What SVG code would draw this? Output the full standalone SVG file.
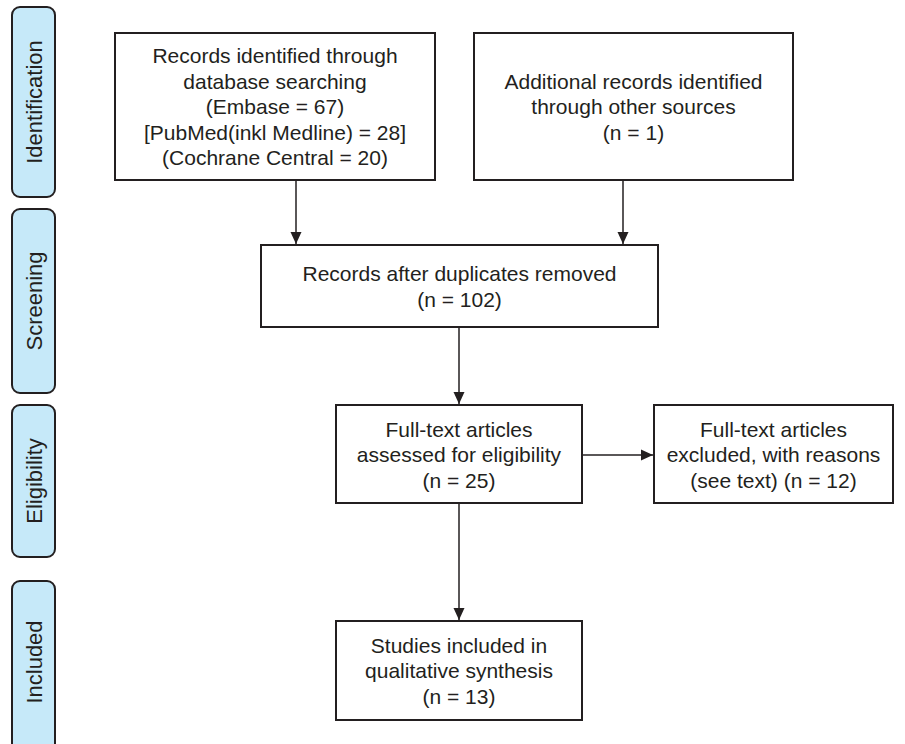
<svg xmlns="http://www.w3.org/2000/svg" width="905" height="744" viewBox="0 0 905 744">
<style>
.box{fill:#ffffff;stroke:#231f20;stroke-width:2}
.phase{fill:#c6e9f9;stroke:#231f20;stroke-width:2}
.t{font-family:"Liberation Sans",Arial,sans-serif;font-size:21px;fill:#231f20;text-anchor:middle}
.pt{font-family:"Liberation Sans",Arial,sans-serif;font-size:22px;fill:#231f20;text-anchor:middle}
.c{stroke:#231f20;stroke-width:1.5;fill:none}
</style>
<defs>
<marker id="ah" markerUnits="userSpaceOnUse" markerWidth="12" markerHeight="12" viewBox="0 0 12 12" refX="12" refY="6" orient="auto">
<path d="M0,0.5 L12,6 L0,11.5 Z" fill="#231f20"/>
</marker>
</defs>
<rect width="905" height="744" fill="#ffffff"/>

<g id="phase-identification">
<rect class="phase" x="12" y="7" width="43" height="190" rx="8"/>
<text class="pt" transform="translate(41.5,102) rotate(-90)">Identification</text>
</g>
<g id="phase-screening">
<rect class="phase" x="12" y="209" width="43" height="184" rx="8"/>
<text class="pt" transform="translate(41.5,301) rotate(-90)">Screening</text>
</g>
<g id="phase-eligibility">
<rect class="phase" x="12" y="405" width="43" height="152" rx="8"/>
<text class="pt" transform="translate(41.5,481) rotate(-90)">Eligibility</text>
</g>
<g id="phase-included">
<rect class="phase" x="12" y="581" width="43" height="180" rx="8"/>
<text class="pt" transform="translate(41.5,662) rotate(-90)">Included</text>
</g>

<g id="records-database">
<rect class="box" x="115" y="33" width="320" height="147"/>
<text class="t" x="275" y="63">Records identified through</text>
<text class="t" x="275" y="88.5">database searching</text>
<text class="t" x="275" y="114">(Embase = 67)</text>
<text class="t" x="275" y="139.5">[PubMed(inkl Medline) = 28]</text>
<text class="t" x="275" y="165">(Cochrane Central = 20)</text>
</g>
<g id="records-other">
<rect class="box" x="474" y="33" width="319" height="147"/>
<text class="t" x="633.5" y="88.5">Additional records identified</text>
<text class="t" x="633.5" y="114">through other sources</text>
<text class="t" x="633.5" y="139.5">(n = 1)</text>
</g>
<g id="records-deduplicated">
<rect class="box" x="261" y="245" width="397" height="82"/>
<text class="t" x="459.5" y="281">Records after duplicates removed</text>
<text class="t" x="459.5" y="306.5">(n = 102)</text>
</g>
<g id="fulltext-assessed">
<rect class="box" x="336" y="405" width="246" height="98"/>
<text class="t" x="459" y="436.5">Full-text articles</text>
<text class="t" x="459" y="462">assessed for eligibility</text>
<text class="t" x="459" y="487.5">(n = 25)</text>
</g>
<g id="fulltext-excluded">
<rect class="box" x="654" y="405" width="239" height="98"/>
<text class="t" x="773.5" y="436.5">Full-text articles</text>
<text class="t" x="773.5" y="462">excluded, with reasons</text>
<text class="t" x="773.5" y="487.5">(see text) (n = 12)</text>
</g>
<g id="studies-included">
<rect class="box" x="336" y="621" width="246" height="99"/>
<text class="t" x="459" y="652.5">Studies included in</text>
<text class="t" x="459" y="678">qualitative synthesis</text>
<text class="t" x="459" y="703.5">(n = 13)</text>
</g>

<g id="connectors">
<line class="c" x1="296" y1="181" x2="296" y2="244" marker-end="url(#ah)"/>
<line class="c" x1="623" y1="181" x2="623" y2="244" marker-end="url(#ah)"/>
<line class="c" x1="459" y1="328" x2="459" y2="404" marker-end="url(#ah)"/>
<line class="c" x1="583" y1="455" x2="653" y2="455" marker-end="url(#ah)"/>
<line class="c" x1="459" y1="504" x2="459" y2="620" marker-end="url(#ah)"/>
</g>
</svg>
